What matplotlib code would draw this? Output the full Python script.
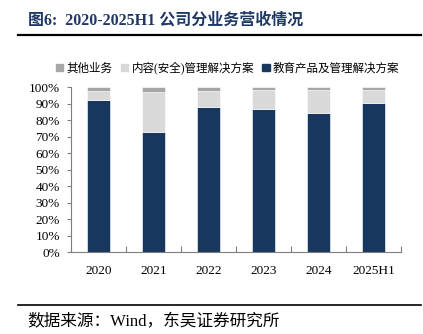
import numpy as np
import matplotlib
matplotlib.use('Agg')
import matplotlib.pyplot as plt
from matplotlib.ticker import FixedLocator, PercentFormatter
from matplotlib.patches import Patch

plt.rcParams['font.family'] = ['Liberation Serif', 'Noto Sans CJK SC', 'DejaVu Sans']

#DATA
years = ['2020', '2021', '2022', '2023', '2024', '2025H1']
edu = [92.1, 72.7, 88.2, 86.8, 84.2, 90.7]        # 教育产品及管理解决方案
content = [5.8, 24.6, 9.6, 11.8, 14.4, 7.9]       # 内容(安全)管理解决方案
other = [2.1, 2.7, 2.2, 1.4, 1.4, 1.4]            # 其他业务
names = ['其他业务', '内容(安全)管理解决方案', '教育产品及管理解决方案']

#COLORS
c_edu = '#17375E'
c_content = '#D9D9D9'
c_other = '#A6A6A6'
navy_title = '#1F3864'

fig = plt.figure(figsize=(4.23, 3.34), dpi=100)
ax = fig.add_axes([0.168, 0.2446, 0.78, 0.494])

x = np.arange(len(years))
w = 0.42
edu = np.array(edu)
content = np.array(content)
other = np.array(other)
ax.bar(x, edu, w, color=c_edu, edgecolor='white', linewidth=0.4, zorder=2)
ax.bar(x, content, w, bottom=edu, color=c_content, edgecolor='white', linewidth=0.4, zorder=2)
ax.bar(x, other, w, bottom=edu + content, color=c_other, edgecolor='white', linewidth=0.4, zorder=2)

ax.set_xlim(-0.5, len(years) - 0.5)
ax.set_ylim(0, 100)
ax.set_yticks(np.arange(0, 101, 10))
ax.yaxis.set_major_formatter(PercentFormatter(decimals=0))
ax.set_xticks(x)
ax.set_xticklabels(years)
ax.xaxis.set_minor_locator(FixedLocator(np.arange(-0.5, len(years), 1.0)))

for s in ['top', 'right']:
    ax.spines[s].set_visible(False)
for s in ['left', 'bottom']:
    ax.spines[s].set_color('#7F7F7F')
    ax.spines[s].set_linewidth(0.8)

ax.tick_params(axis='y', direction='out', length=3, width=0.8, color='#7F7F7F',
               labelsize=9.5, pad=5)
ax.tick_params(axis='x', which='major', length=0, labelsize=9.5, pad=9)
ax.tick_params(axis='x', which='minor', direction='in', length=4, width=0.8, color='#7F7F7F')

#LEGEND
handles = [Patch(color=c_other), Patch(color=c_content), Patch(color=c_edu)]
fig.legend(handles, names, loc='center', bbox_to_anchor=(0.538, 1 - 68 / 334),
           ncol=3, frameon=False, fontsize=8.3, handlelength=0.65, handleheight=0.65,
           handletextpad=0.3, columnspacing=0.7, borderaxespad=0)

#TITLE
fig.text(28 / 423, 1 - 21 / 334, '图6:  2020-2025H1 公司分业务营收情况', fontsize=11.5,
         fontweight='bold', color=navy_title, ha='left', va='center')
fig.add_artist(plt.Line2D([18 / 423, 421 / 423], [1 - 35 / 334, 1 - 35 / 334],
                          color='black', linewidth=1.6))

#FOOTER
fig.add_artist(plt.Line2D([18 / 423, 421 / 423], [1 - 305 / 334, 1 - 305 / 334],
                          color='black', linewidth=1.2))
fig.text(27 / 423, 1 - 322 / 334, '数据来源：Wind，东吴证券研究所', fontsize=12,
         ha='left', va='center')

plt.savefig('out.png', dpi=100)
